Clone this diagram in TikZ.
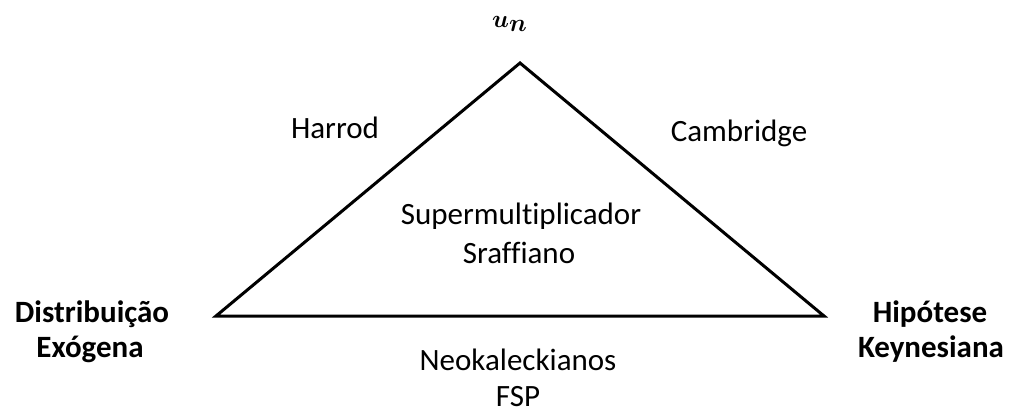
\documentclass[tikz,border=0pt]{standalone}
\usepackage{amsmath}
\usepackage{bm}
\usepackage{fontspec}
\setmainfont[Ligatures={NoCommon}]{Carlito}
\begin{document}
\begin{tikzpicture}[x=1pt,y=-1pt,
  lbl/.style={font=\fontsize{31}{37}\selectfont, inner sep=0pt, anchor=base},
  blbl/.style={font=\fontsize{31}{37}\selectfont\bfseries, inner sep=0pt, anchor=base},
  edge/.style={line width=3pt, line join=miter}]
\useasboundingbox (0,0) rectangle (1016,412);
\coordinate (top) at (520,63);
\coordinate (left) at (216,316);
\coordinate (right) at (824,316);
\draw[edge] (top) -- (right) -- (left) -- cycle;
\node[inner sep=0pt, anchor=base west] (un) at (492,28) {\fontsize{46}{50}\selectfont$\bm{u_n}$};
\node[lbl] (harrod) at (335,138) {Harrod};
\node[lbl] (cambridge) at (739,141) {Cambridge};
\node[lbl] (ss1) at (521,224) {Supermultiplicador};
\node[lbl] (ss2) at (519,263) {Sraffiano};
\node[blbl] (dist1) at (92,322) {Distribuição};
\node[blbl] (dist2) at (90,357) {Exógena};
\node[blbl] (hip1) at (930,322) {Hipótese};
\node[blbl] (hip2) at (931,357) {Keynesiana};
\node[lbl] (neo1) at (518,370) {Neokaleckianos};
\node[lbl] (neo2) at (518,406) {FSP};
\end{tikzpicture}
\end{document}
